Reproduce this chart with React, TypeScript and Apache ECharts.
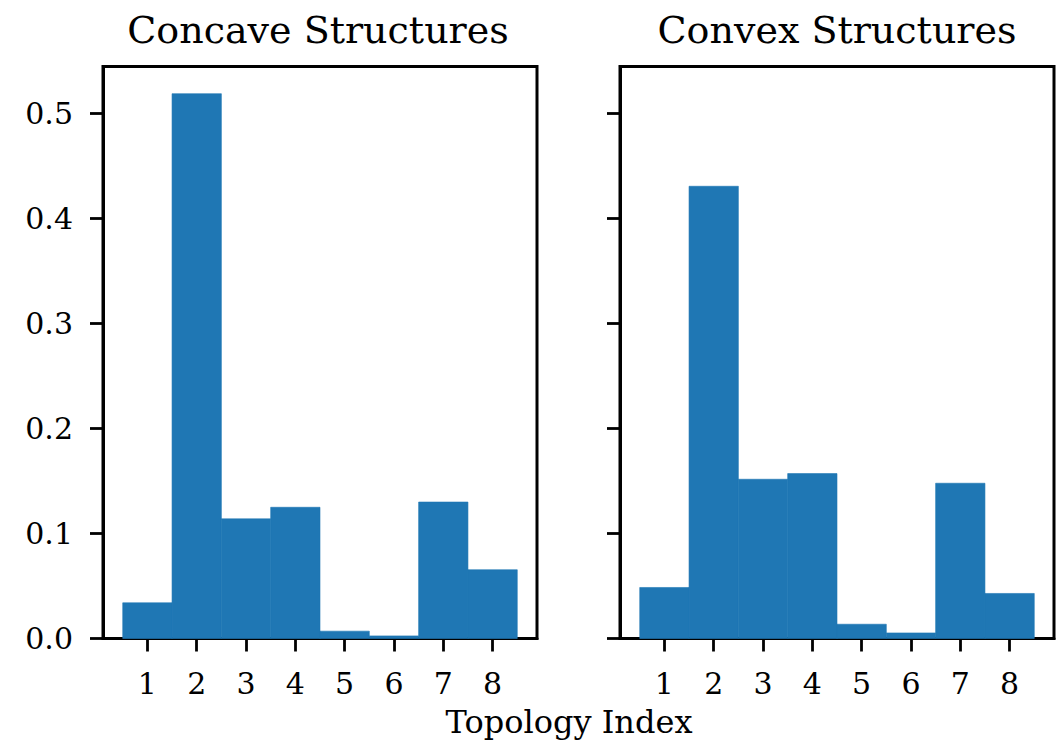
import React, { useEffect, useRef } from "react";
import * as echarts from "echarts";

const categories = [1, 2, 3, 4, 5, 6, 7, 8];
const concaveValues = [0.034, 0.519, 0.114, 0.125, 0.007, 0.0025, 0.13, 0.0655];
const convexValues = [0.0486, 0.4308, 0.1517, 0.1571, 0.0136, 0.0053, 0.1479, 0.0429];
const yTickValues = [0, 0.1, 0.2, 0.3, 0.4, 0.5];
const panelTitles = ["Concave Structures", "Convex Structures"];
const xAxisTitle = "Topology Index";

const FONT = '"DejaVu Serif", serif';
const BAR_COLOR = "#1f77b4";

export default function App() {
  const ref = useRef<HTMLDivElement>(null);
  useEffect(() => {
    if (!ref.current) return;
    const chart = echarts.init(ref.current, null, { renderer: "svg" });
    const grids = [
      { left: 103, top: 66.5, width: 434, height: 572 },
      { left: 620, top: 66.5, width: 434, height: 572 },
    ];
    const xAxes = grids.map((_, i) => ({
      type: "value",
      gridIndex: i,
      min: 0.1,
      max: 8.9,
      splitLine: { show: false },
      axisLine: { show: true, onZero: false, lineStyle: { color: "#000", width: 3 } },
      axisTick: { show: true, customValues: categories, length: 13, lineStyle: { color: "#000", width: 2.8 } },
      axisLabel: {
        show: true,
        customValues: categories,
        margin: 30,
        color: "#000",
        fontFamily: FONT,
        fontSize: 30,
        formatter: (v: number) => String(Math.round(v)),
      },
    }));
    const yAxes = grids.map((_, i) => ({
      type: "value",
      gridIndex: i,
      min: 0,
      max: 0.5449,
      splitLine: { show: false },
      axisLine: { show: true, onZero: false, lineStyle: { color: "#000", width: 3 } },
      axisTick: { show: true, customValues: yTickValues, length: 13, lineStyle: { color: "#000", width: 2.8 } },
      axisLabel: {
        show: i === 0,
        customValues: yTickValues,
        margin: 30,
        padding: [6, 0, 0, 0],
        color: "#000",
        fontFamily: FONT,
        fontSize: 30,
        formatter: (v: number) => v.toFixed(1),
      },
    }));
    const makeSeries = (vals: number[], idx: number) => ({
      type: "custom",
      xAxisIndex: idx,
      yAxisIndex: idx,
      data: categories.map((c, i) => [c, vals[i]]),
      encode: { x: 0, y: 1 },
      renderItem: (params: any, api: any) => {
        const x = api.value(0);
        const v = api.value(1);
        const p0 = api.coord([x - 0.5, v]);
        const p1 = api.coord([x + 0.5, 0]);
        return {
          type: "rect",
          shape: { x: p0[0], y: p0[1], width: p1[0] - p0[0], height: p1[1] - p0[1] },
          style: { fill: BAR_COLOR, stroke: BAR_COLOR, lineWidth: 0.6 },
        };
      },
    });
    const textEl = (text: string, x: number, y: number, size: number) => ({
      type: "text",
      x,
      y,
      style: {
        text,
        fill: "#000",
        font: `${size}px ${FONT}`,
        fontFamily: FONT,
        fontSize: size,
        align: "center",
        verticalAlign: "middle",
        textAlign: "center",
        textVerticalAlign: "middle",
      },
    });
    chart.setOption({
      animation: false,
      backgroundColor: "#fff",
      grid: grids.map((g) => ({ ...g, show: true, borderColor: "#000", borderWidth: 3, backgroundColor: "transparent" })),
      xAxis: xAxes,
      yAxis: yAxes,
      series: [makeSeries(concaveValues, 0), makeSeries(convexValues, 1)],
      graphic: [
        textEl(panelTitles[0], 318, 30, 38),
        textEl(panelTitles[1], 837, 30, 38),
        textEl(xAxisTitle, 569, 722, 32),
      ],
    });
    return () => chart.dispose();
  }, []);
  return (
    <div
      ref={ref}
      style={{ position: "fixed", left: 0, top: 0, width: 1061, height: 744, background: "#fff" }}
    />
  );
}
